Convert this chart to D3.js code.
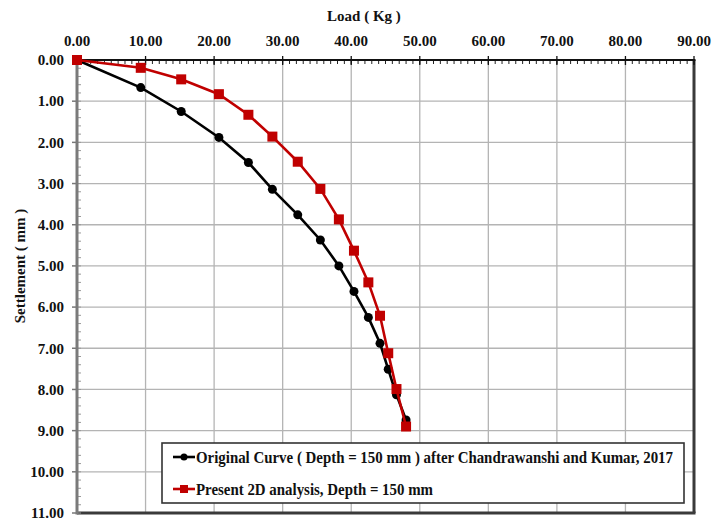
<!DOCTYPE html>
<html>
<head>
<meta charset="utf-8">
<title>Load settlement curve</title>
<script src="https://d3js.org/d3.v7.min.js"></script>
<style>
  body { margin: 0; background: #fff; }
  svg text { font-family: "Liberation Serif", "Times New Roman", serif; font-weight: bold; fill: #111; }
</style>
</head>
<body>
<div id="chart"></div>
<script>
// values
var loadKg   = [0, 9.3, 15.2, 20.7, 25.0, 28.5, 32.2, 35.5, 38.2, 40.4, 42.5, 44.2, 45.4, 46.6, 48.0];
var original = [0, 0.67, 1.25, 1.88, 2.49, 3.14, 3.76, 4.37, 5.00, 5.62, 6.25, 6.88, 7.51, 8.13, 8.74];
var present  = [0, 0.19, 0.47, 0.83, 1.33, 1.86, 2.47, 3.13, 3.87, 4.63, 5.40, 6.21, 7.12, 7.99, 8.90];
var xTicks = d3.range(0, 91, 10);
var yTicks = d3.range(0, 12, 1);
var seriesNames = ["Original Curve ( Depth = 150 mm ) after Chandrawanshi and Kumar, 2017",
                   "Present 2D analysis, Depth = 150 mm"];

var W = 725, H = 521;
var margin = {top: 60, right: 31, bottom: 8, left: 77};
var width = W - margin.left - margin.right,
    height = H - margin.top - margin.bottom;

var svg = d3.select("#chart").append("svg").attr("width", W).attr("height", H);
var g = svg.append("g").attr("transform", "translate(" + margin.left + "," + margin.top + ")");

var x = d3.scaleLinear().domain([0, 90]).range([0, width]);
var y = d3.scaleLinear().domain([0, 11]).range([0, height]);

// grid
g.append("g").selectAll("line").data(xTicks.slice(1, -1)).join("line")
  .attr("x1", d => x(d)).attr("x2", d => x(d)).attr("y1", 0).attr("y2", height)
  .attr("stroke", "#b4b4b4").attr("stroke-width", 1.3);
g.append("g").selectAll("line").data(yTicks.slice(1, -1)).join("line")
  .attr("x1", 0).attr("x2", width).attr("y1", d => y(d)).attr("y2", d => y(d))
  .attr("stroke", "#b4b4b4").attr("stroke-width", 1.3);

// right + bottom frame
g.append("line").attr("x1", width).attr("x2", width).attr("y1", 0).attr("y2", height)
  .attr("stroke", "#3a3a3a").attr("stroke-width", 3);
g.append("line").attr("x1", 0).attr("x2", width + 1.5).attr("y1", height).attr("y2", height)
  .attr("stroke", "#3a3a3a").attr("stroke-width", 3);

// left axis (grey) with minor ticks inside
var yMinor = d3.range(0, 11.01, 0.2);
g.append("g").selectAll("line").data(yMinor).join("line")
  .attr("x1", 0).attr("x2", 4).attr("y1", d => y(d)).attr("y2", d => y(d))
  .attr("stroke", "#999").attr("stroke-width", 1);
g.append("g").selectAll("line").data(yTicks).join("line")
  .attr("x1", -5).attr("x2", 0).attr("y1", d => y(d)).attr("y2", d => y(d))
  .attr("stroke", "#777").attr("stroke-width", 1.5);
g.append("line").attr("x1", 0).attr("x2", 0).attr("y1", 0).attr("y2", height + 1.5)
  .attr("stroke", "#7a7a7a").attr("stroke-width", 3);

g.append("g").selectAll("text").data(yTicks).join("text")
  .attr("x", -13).attr("y", d => y(d)).attr("dy", "0.35em")
  .attr("text-anchor", "end").style("font-size", "15px")
  .text(d => d3.format(".2f")(d));

// top axis (black) with minor ticks inside
var xMinor = d3.range(0, 90.01, 1);
g.append("g").selectAll("line").data(xMinor).join("line")
  .attr("x1", d => x(d)).attr("x2", d => x(d)).attr("y1", 0).attr("y2", 4)
  .attr("stroke", "#222").attr("stroke-width", 1);
g.append("g").selectAll("line").data(xTicks).join("line")
  .attr("x1", d => x(d)).attr("x2", d => x(d)).attr("y1", -4).attr("y2", 5)
  .attr("stroke", "#111").attr("stroke-width", 1.3);
g.append("line").attr("x1", 0).attr("x2", width + 1.5).attr("y1", 0).attr("y2", 0)
  .attr("stroke", "#111").attr("stroke-width", 2.2);

g.append("g").selectAll("text").data(xTicks).join("text")
  .attr("x", d => x(d)).attr("y", -14)
  .attr("text-anchor", "middle").style("font-size", "15px")
  .text(d => d3.format(".2f")(d));

// axis titles
svg.append("text").attr("x", 364).attr("y", 21).attr("text-anchor", "middle")
  .style("font-size", "15px").text("Load ( Kg )");
svg.append("text").attr("transform", "translate(25,266) rotate(-90)")
  .attr("text-anchor", "middle").style("font-size", "15px").text("Settlement ( mm )");

// series
var line = d3.line().x(d => x(d[0])).y(d => y(d[1]));
var ptsOrig = loadKg.map((v, i) => [v, original[i]]);
var ptsPres = loadKg.map((v, i) => [v, present[i]]);

g.append("path").datum(ptsOrig).attr("d", line)
  .attr("fill", "none").attr("stroke", "#000").attr("stroke-width", 2.6);
g.append("g").selectAll("circle").data(ptsOrig).join("circle")
  .attr("cx", d => x(d[0])).attr("cy", d => y(d[1])).attr("r", 4.5).attr("fill", "#000");

g.append("path").datum(ptsPres).attr("d", line)
  .attr("fill", "none").attr("stroke", "#c00000").attr("stroke-width", 2.6);
g.append("g").selectAll("rect").data(ptsPres).join("rect")
  .attr("x", d => x(d[0]) - 5).attr("y", d => y(d[1]) - 5)
  .attr("width", 10).attr("height", 10).attr("fill", "#c00000");

// legend
var leg = svg.append("g").attr("transform", "translate(162,443)");
leg.append("rect").attr("width", 522).attr("height", 60)
  .attr("fill", "#fff").attr("stroke", "#333").attr("stroke-width", 1.6);
var rowsY = [14, 46];
var legColors = ["#000", "#c00000"];
var legWidths = [477, 237];
seriesNames.forEach(function(name, i) {
  var r = leg.append("g").attr("transform", "translate(0," + rowsY[i] + ")");
  r.append("line").attr("x1", 11).attr("x2", 33).attr("y1", 0).attr("y2", 0)
    .attr("stroke", legColors[i]).attr("stroke-width", 2.6);
  if (i === 0) {
    r.append("circle").attr("cx", 22).attr("cy", 0).attr("r", 3.5).attr("fill", "#000");
  } else {
    r.append("rect").attr("x", 18).attr("y", -4).attr("width", 8).attr("height", 8).attr("fill", "#c00000");
  }
  r.append("text").attr("x", 34).attr("y", 0).attr("dy", "0.35em")
    .style("font-size", "16px")
    .attr("textLength", legWidths[i]).attr("lengthAdjust", "spacingAndGlyphs")
    .text(name);
});
</script>
</body>
</html>
